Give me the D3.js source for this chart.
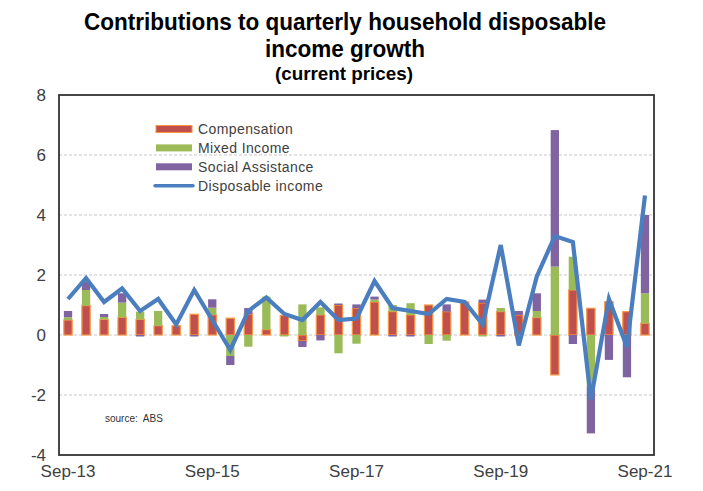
<!DOCTYPE html>
<html>
<head>
<meta charset="utf-8">
<script src="https://cdn.jsdelivr.net/npm/d3@7/dist/d3.min.js"></script>
<style>
html,body{margin:0;padding:0;background:#fff;}
svg{display:block;}
</style>
</head>
<body>
<script>
const quarters = ["Sep-13","Dec-13","Mar-14","Jun-14","Sep-14","Dec-14","Mar-15","Jun-15",
  "Sep-15","Dec-15","Mar-16","Jun-16","Sep-16","Dec-16","Mar-17","Jun-17",
  "Sep-17","Dec-17","Mar-18","Jun-18","Sep-18","Dec-18","Mar-19","Jun-19",
  "Sep-19","Dec-19","Mar-20","Jun-20","Sep-20","Dec-20","Mar-21","Jun-21","Sep-21"];
const compensation = [0.5,0.98,0.52,0.59,0.52,0.31,0.31,0.69,0.67,0.56,0.7,0.18,0.65,-0.2,0.67,1.0,
  0.89,1.1,0.78,0.67,1.0,0.78,1.1,1.07,0.78,0.67,0.58,-1.33,1.5,0.89,1.11,0.78,0.39];
const mixedIncome = [0.09,0.52,0.08,0.49,0.26,0.49,0,0,0.24,-0.7,-0.39,1.1,-0.05,1.02,0.25,-0.61,
  -0.29,0.08,0.22,0.39,-0.3,-0.19,0,-0.05,0.12,0,0.22,2.28,1.11,-1.72,0,0,1.0];
const socialAssistance = [0.21,0.28,0.1,0.31,-0.05,0,0,-0.05,0.28,-0.3,0.2,0,0,-0.2,-0.18,0.05,
  0.13,0.1,-0.05,-0.05,0,0.24,0,0.11,-0.05,0.13,0.59,4.55,-0.3,-1.56,-0.83,-1.41,2.61];
const disposableIncome = [1.2,1.9,1.1,1.55,0.8,1.2,0.35,1.5,0.5,-0.5,0.8,1.25,0.7,0.5,1.1,0.5,
  0.55,1.8,0.9,0.8,0.7,1.2,1.1,0.35,3.0,-0.35,1.95,3.3,3.1,-2.15,1.2,-0.4,4.65];
const xTickLabels = ["Sep-13","Sep-15","Sep-17","Sep-19","Sep-21"];
const yTickValues = [-4,-2,0,2,4,6,8];
const seriesNames = ["Compensation","Mixed Income","Social Assistance","Disposable income"];
const titleLines = ["Contributions to quarterly household disposable","income growth"];
const subtitle = "(current prices)";
const sourceText = "source:  ABS";

const W = 703, H = 491;
const M = {left:59, right:654, top:95, bottom:455};
const colors = {
  comp:"#C0504D", compStroke:"#F79646",
  mixed:"#9BBB59", social:"#8064A2", line:"#4A7EBF"
};

const svg = d3.select("body").append("svg").attr("width",W).attr("height",H);

const x = d3.scaleBand().domain(quarters).range([M.left, M.right]).padding(0);
const y = d3.scaleLinear().domain([-4,8]).range([M.bottom, M.top]);

// gridlines
svg.append("g").selectAll("line").data([-2,0,2,4,6]).join("line")
  .attr("x1",M.left).attr("x2",M.right)
  .attr("y1",d=>y(d)).attr("y2",d=>y(d))
  .attr("stroke","#c8c8c8").attr("stroke-width",1.2)
  .attr("stroke-dasharray","3,2");

// stacked bars
const table = quarters.map((q,i)=>({q, comp:compensation[i], mixed:mixedIncome[i], social:socialAssistance[i]}));
const stack = d3.stack().keys(["comp","mixed","social"]).offset(d3.stackOffsetDiverging);
const stacked = stack(table);
const bw = x.bandwidth()*0.46;
const off = (x.bandwidth()-bw)/2;
const fills = {comp:colors.comp, mixed:colors.mixed, social:colors.social};

stacked.forEach(layer=>{
  const g = svg.append("g");
  g.selectAll("rect").data(layer.filter(d=>d[1]!==d[0])).join("rect")
    .attr("x", d=>x(d.data.q)+off)
    .attr("width", bw)
    .attr("y", d=>y(Math.max(d[0],d[1])))
    .attr("height", d=>Math.abs(y(d[0])-y(d[1])))
    .attr("fill", fills[layer.key])
    .attr("stroke", layer.key==="comp" ? colors.compStroke : "none")
    .attr("stroke-width", layer.key==="comp" ? 1.2 : 0);
});

// line
const line = d3.line().x((d,i)=>x(quarters[i])+x.bandwidth()/2).y(d=>y(d));
svg.append("path").datum(disposableIncome)
  .attr("d", line).attr("fill","none")
  .attr("stroke", colors.line).attr("stroke-width",4.2)
  .attr("stroke-linejoin","miter").attr("stroke-miterlimit",4);

// frame
svg.append("rect").attr("x",M.left).attr("y",M.top)
  .attr("width",M.right-M.left).attr("height",M.bottom-M.top)
  .attr("fill","none").attr("stroke","#333").attr("stroke-width",1.8);

// axes
const afont = "'Liberation Sans Narrow','Arial Narrow','Liberation Sans',Arial,sans-serif";
const yAxis = svg.append("g").attr("transform",`translate(${M.left},0)`)
  .call(d3.axisLeft(y).tickValues(yTickValues).tickSize(0).tickPadding(13).tickFormat(d=>String(d)));
yAxis.select(".domain").remove();
yAxis.selectAll("text").attr("font-family",afont).attr("font-size",17).attr("fill","#404040");

const xAxis = svg.append("g").attr("transform",`translate(0,${M.bottom})`)
  .call(d3.axisBottom(x).tickValues(xTickLabels).tickSize(0).tickPadding(10));
xAxis.select(".domain").remove();
xAxis.selectAll("text").attr("font-family",afont).attr("font-size",17).attr("fill","#404040");

// title
const tfont = afont;
svg.append("text").attr("x",345).attr("y",30).attr("text-anchor","middle")
  .attr("font-family",tfont).attr("font-weight","bold").attr("font-size",23).attr("fill","#000")
  .attr("textLength",522).attr("lengthAdjust","spacingAndGlyphs").text(titleLines[0]);
svg.append("text").attr("x",345).attr("y",57).attr("text-anchor","middle")
  .attr("font-family",tfont).attr("font-weight","bold").attr("font-size",23).attr("fill","#000")
  .attr("textLength",160).attr("lengthAdjust","spacingAndGlyphs").text(titleLines[1]);
svg.append("text").attr("x",344).attr("y",80).attr("text-anchor","middle")
  .attr("font-family",tfont).attr("font-weight","bold").attr("font-size",19).attr("fill","#000")
  .attr("textLength",138).attr("lengthAdjust","spacingAndGlyphs").text(subtitle);

// legend
const lg = svg.append("g");
const legendRows = [
  {name:seriesNames[0], type:"rect", fill:colors.comp, stroke:colors.compStroke},
  {name:seriesNames[1], type:"rect", fill:colors.mixed},
  {name:seriesNames[2], type:"rect", fill:colors.social},
  {name:seriesNames[3], type:"line", stroke:colors.line}
];
legendRows.forEach((r,i)=>{
  const cy = 129 + i*18.9;
  if(r.type==="rect"){
    lg.append("rect").attr("x",156).attr("y",cy-3.5).attr("width",36).attr("height",7)
      .attr("fill",r.fill).attr("stroke",r.stroke||"none").attr("stroke-width",r.stroke?1:0);
  } else {
    lg.append("line").attr("x1",155).attr("x2",193).attr("y1",cy).attr("y2",cy)
      .attr("stroke",r.stroke).attr("stroke-width",3.5).attr("stroke-linecap","round");
  }
  lg.append("text").attr("x",198).attr("y",cy+5)
    .attr("font-family","'Liberation Sans',Arial,sans-serif").attr("font-size",14)
    .attr("fill","#404040").attr("letter-spacing",0.4).text(r.name);
});

// source
svg.append("text").attr("x",105).attr("y",422)
  .attr("font-family",tfont).attr("font-size",10).attr("fill","#333")
  .attr("xml:space","preserve").text(sourceText);
</script>
</body>
</html>
